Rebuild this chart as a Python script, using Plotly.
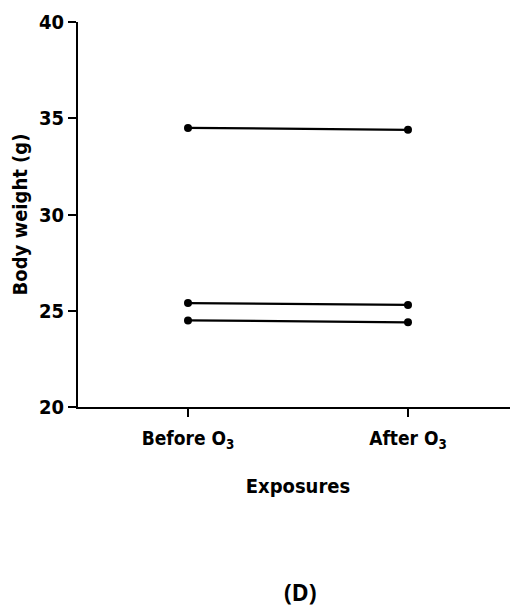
import plotly.graph_objects as go

categories = ["Before O<sub>3</sub>", "After O<sub>3</sub>"]
mouse_a = [34.5, 34.4]
mouse_b = [25.4, 25.3]
mouse_c = [24.5, 24.4]
y_ticks = [20, 25, 30, 35, 40]

FONT = "DejaVu Sans Condensed, DejaVu Sans, sans-serif"

# the page adds an 8px body margin, so the figure is sized to fill the rest
W, H = 510, 602
L, T, B = 70, 14, 203

fig = go.Figure()
for series in (mouse_a, mouse_b, mouse_c):
    fig.add_trace(go.Scatter(
        x=[0, 1], y=series, mode="lines+markers",
        line=dict(color="black", width=2.2),
        marker=dict(color="black", size=8),
        showlegend=False,
    ))

fig.update_layout(
    width=W, height=H,
    margin=dict(l=L, r=0, t=T, b=B),
    paper_bgcolor="white", plot_bgcolor="white",
    font=dict(family=FONT, color="black"),
    xaxis=dict(
        range=[-0.5, 1.5], tickmode="array", tickvals=[0, 1], ticktext=categories,
        showline=True, linecolor="black", linewidth=2,
        ticks="outside", ticklen=8, tickwidth=2, tickcolor="black",
        showgrid=False, zeroline=False, ticklabelstandoff=5,
        tickfont=dict(family=FONT, size=19, color="black", weight="bold"),
        title=dict(text="<b>Exposures</b>", font=dict(family=FONT, size=20), standoff=28),
    ),
    yaxis=dict(
        range=[20, 40], tickvals=y_ticks,
        showline=True, linecolor="black", linewidth=2,
        ticks="outside", ticklen=8, tickwidth=2, tickcolor="black",
        showgrid=False, zeroline=False,
        tickfont=dict(family=FONT, size=20, color="black", weight="bold"),
        title=dict(text="<b>Body weight (g)</b>", font=dict(family=FONT, size=20), standoff=12),
    ),
)

plot_w = W - L
plot_h = H - T - B
fig.add_annotation(
    text="<b>(D)</b>", showarrow=False,
    xref="paper", yref="paper",
    x=(300 - 8 - L) / plot_w, y=(H - B - (592 - 8)) / plot_h,
    xanchor="center", yanchor="middle",
    font=dict(family="Noto Sans, sans-serif", size=23, color="black"),
)

fig.write_html("out.html")
